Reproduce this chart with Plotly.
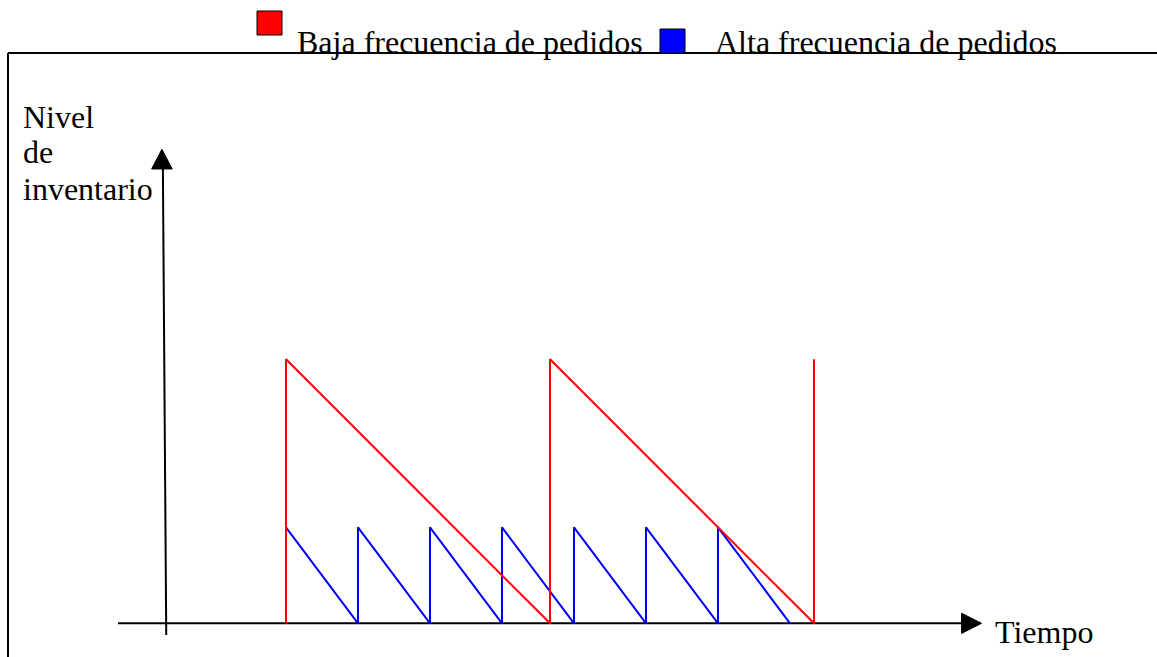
import plotly.graph_objects as go

# ---------------- data ----------------
red_name = "Baja frecuencia de pedidos"
blue_name = "Alta frecuencia de pedidos"
red_color = "#FF0000"
blue_color = "#0000FF"

# time (arbitrary units) and inventory level (arbitrary units)
red_time = [0, 0, 11, 11, 22, 22]
red_level = [0, 11, 0, 11, 0, 11]
blue_time = [0, 0, 3, 3, 6, 6, 9, 9, 12, 12, 15, 15, 18, 18, 21]
blue_level = [0, 4, 0, 4, 0, 4, 0, 4, 0, 4, 0, 4, 0, 4, 0]

x_label = "Tiempo"
y_label_lines = ["Nivel", "de", "inventario"]

# ---------------- layout ----------------
W, H = 1157, 657
X0_PX, Y0_PX, UNIT = 286.0, 623.3, 24.0  # pixel of origin, pixels per unit
FONT = "Liberation Serif, Times New Roman, serif"
FS = 32


def px(x):
    return x / W


def py(y):
    return 1 - y / H


fig = go.Figure()
fig.add_trace(go.Scatter(x=red_time, y=red_level, mode="lines", name=red_name,
                         line=dict(color=red_color, width=2)))
fig.add_trace(go.Scatter(x=blue_time, y=blue_level, mode="lines", name=blue_name,
                         line=dict(color=blue_color, width=2)))
# draw red on top of blue like reference (red vertical over blue start)
fig.data = (fig.data[1], fig.data[0])

shapes = []
# horizontal axis with arrow
shapes.append(dict(type="line", xref="x", yref="y", x0=-7.0, y0=0, x1=28.3, y1=0,
                   line=dict(color="black", width=2), layer="below"))
shapes.append(dict(type="path", xref="x", yref="y",
                   path="M 28.15 0.42 L 28.98 0 L 28.15 -0.42 Z",
                   fillcolor="black", line=dict(color="black", width=1)))
# vertical axis with arrow (slightly slanted as in reference)
shapes.append(dict(type="line", xref="x", yref="y", x0=-4.99, y0=-0.49, x1=-5.13, y1=19.0,
                   line=dict(color="black", width=2), layer="below"))
shapes.append(dict(type="path", xref="x", yref="y",
                   path="M -5.60 18.93 L -5.17 19.75 L -4.74 18.93 Z",
                   fillcolor="black", line=dict(color="black", width=1)))
# frame lines
shapes.append(dict(type="line", xref="paper", yref="paper", x0=px(8), y0=py(53), x1=1, y1=py(53),
                   line=dict(color="black", width=2)))
shapes.append(dict(type="line", xref="paper", yref="paper", x0=px(8), y0=py(53), x1=px(8), y1=0,
                   line=dict(color="black", width=2)))
# legend squares
shapes.append(dict(type="rect", xref="paper", yref="paper", x0=px(257), x1=px(282), y0=py(35), y1=py(11),
                   fillcolor=red_color, line=dict(color="black", width=1)))
shapes.append(dict(type="rect", xref="paper", yref="paper", x0=px(660), x1=px(685), y0=py(53), y1=py(29),
                   fillcolor=blue_color, line=dict(color="black", width=1)))

annotations = []


def text(t, x, y):
    annotations.append(dict(text=t, xref="paper", yref="paper", x=px(x), y=py(y),
                            xanchor="left", yanchor="middle", showarrow=False,
                            font=dict(family=FONT, size=FS, color="black")))


text(red_name, 295, 42)
text(blue_name, 713, 42)
text(x_label, 993, 632)
for i, (line, yy) in enumerate(zip(y_label_lines, [117, 152, 189])):
    text(line, 21, yy)

fig.update_layout(
    width=W, height=H,
    margin=dict(l=0, r=0, t=0, b=0),
    paper_bgcolor="white", plot_bgcolor="white",
    showlegend=False,
    shapes=shapes,
    annotations=annotations,
    xaxis=dict(range=[(0 - X0_PX) / UNIT, (W - X0_PX) / UNIT], visible=False, fixedrange=True),
    yaxis=dict(range=[(Y0_PX - H) / UNIT, Y0_PX / UNIT], visible=False, fixedrange=True),
)

fig.write_html("out.html", config={"displayModeBar": False},
               post_script="document.body.style.margin='0';")
